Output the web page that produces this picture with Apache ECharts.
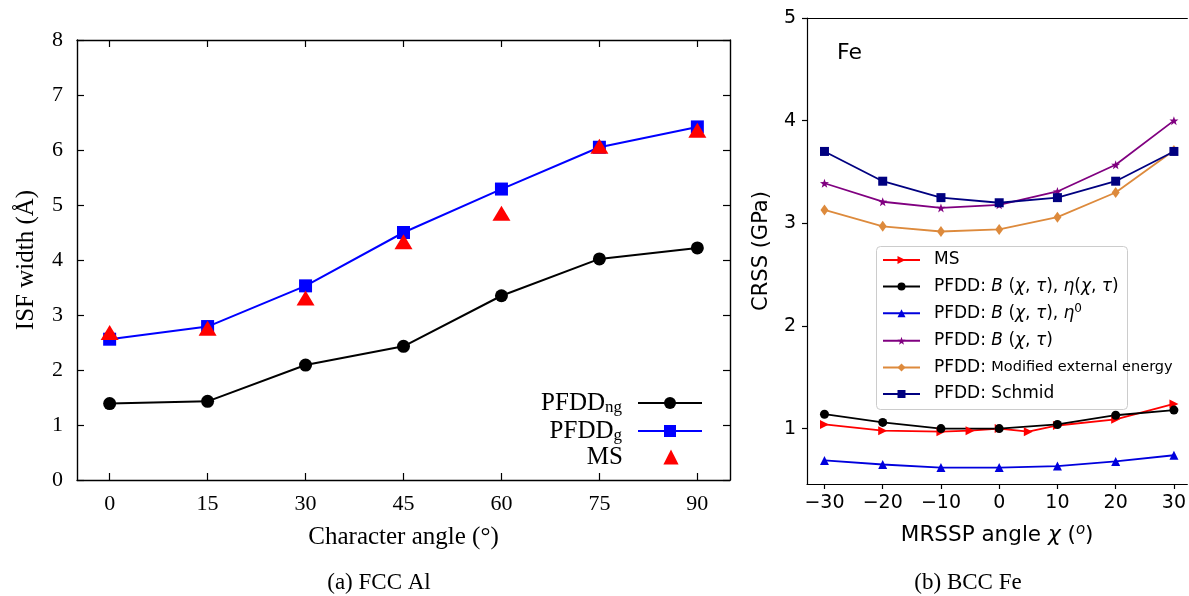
<!DOCTYPE html>
<html><head><meta charset="utf-8">
<script src="https://cdn.jsdelivr.net/npm/echarts@6/dist/echarts.min.js"></script>
<style>html,body{margin:0;padding:0;background:#fff}#c{width:1189px;height:596px}</style>
</head><body><div id="c"></div>
<script>
// ---- (a) FCC Al ----
const angleTicks = [0, 15, 30, 45, 60, 75, 90];
const alAngles = [0, 15, 30, 45, 60, 75, 90];
const pfddNg = [1.39, 1.43, 2.09, 2.43, 3.35, 4.02, 4.22];
const pfddG = [2.56, 2.79, 3.53, 4.50, 5.29, 6.05, 6.42];
const msAl = [2.68, 2.76, 3.31, 4.33, 4.85, 6.07, 6.36];
const isfTicks = [0, 1, 2, 3, 4, 5, 6, 7, 8];

// ---- (b) BCC Fe ----
const chiTicks = [-30, -20, -10, 0, 10, 20, 30];
const crssTicks = [1, 2, 3, 4, 5];
const chi = [-30, -20, -10, 0, 10, 20, 30];
const msChi = [-30, -20, -10, -5, 0, 5, 10, 20, 30];
const msFe = [1.04, 0.98, 0.97, 0.98, 1.00, 0.97, 1.03, 1.09, 1.24];
const pfddBEta = [1.14, 1.06, 1.00, 1.00, 1.04, 1.13, 1.18];
const pfddBEta0 = [0.69, 0.65, 0.62, 0.62, 0.635, 0.68, 0.74];
const pfddB = [3.39, 3.21, 3.15, 3.18, 3.31, 3.57, 4.00];
const pfddMod = [3.13, 2.97, 2.92, 2.94, 3.06, 3.30, 3.71];
const pfddSchmid = [3.70, 3.41, 3.25, 3.20, 3.25, 3.41, 3.70];

const pairs = (xs, ys) => xs.map((x, i) => [x, ys[i]]);
const SERIF = '"Liberation Serif", "DejaVu Serif", serif';
const SANS = '"DejaVu Sans", sans-serif';
const STAR = 'path://M0,-10 L2.35,-3.24 L9.51,-3.09 L3.8,1.24 L5.88,8.09 L0,4 L-5.88,8.09 L-3.8,1.24 L-9.51,-3.09 L-2.35,-3.24 Z';

const chart = echarts.init(document.getElementById('c'), null, {renderer: 'canvas'});

const leftAxisLine = {onZero: false, lineStyle: {color: '#000', width: 1.4}};
const rightAxisLine = {onZero: false, lineStyle: {color: '#000', width: 1.2}};
const leftTick = {inside: true, length: 7, lineStyle: {color: '#000', width: 1.2}};

const serifRich = {
  b: {fontFamily: SERIF, fontSize: 25, color: '#000', lineHeight: 26},
  s: {fontFamily: SERIF, fontSize: 17, color: '#000', lineHeight: 26, verticalAlign: 'bottom', padding: [9, 0, 0, 0]}
};
function leftLegend(name, center, itemHeight) {
  return {orient: 'vertical', right: 486, top: center - 13, align: 'right', padding: 0,
    itemWidth: 64, itemHeight: itemHeight, data: [name],
    formatter: n => n === 'PFDD_ng' ? '{b|PFDD}{s|ng}' : n === 'PFDD_g' ? '{b|PFDD}{s|g}' : '{b|MS}',
    textStyle: {fontFamily: SERIF, fontSize: 25, lineHeight: 26, color: '#000', padding: [0, 11, 0, 0], rich: serifRich}};
}

const sansRich = {
  t: {fontFamily: SANS, fontSize: 17, color: '#000', lineHeight: 20},
  i: {fontFamily: SANS, fontSize: 17, fontStyle: 'italic', color: '#000', lineHeight: 20},
  sup: {fontFamily: SANS, fontSize: 12, color: '#000', lineHeight: 20, verticalAlign: 'top', padding: [0, 0, 9, 0]},
  sm: {fontFamily: SANS, fontSize: 14.5, color: '#000', lineHeight: 20}
};

const option = {
  animation: false,
  backgroundColor: '#fff',
  title: [
    {text: '(a) FCC Al', left: 374, top: 566, textAlign: 'center',
     textStyle: {fontFamily: SERIF, fontSize: 23, fontWeight: 'normal', color: '#000'}},
    {text: '(b) BCC Fe', left: 963, top: 566, textAlign: 'center',
     textStyle: {fontFamily: SERIF, fontSize: 23, fontWeight: 'normal', color: '#000'}},
    {text: 'Fe', left: 832, top: 37,
     textStyle: {fontFamily: SANS, fontSize: 22, fontWeight: 'normal', color: '#000'}}
  ],
  graphic: [
    {type: 'rect', left: 876, top: 246, z: 3,
     shape: {width: 251, height: 163, r: 4},
     style: {fill: 'rgba(255,255,255,0.85)', stroke: '#cccccc', lineWidth: 1}}
  ],
  grid: [
    {left: 77, top: 40, width: 653, height: 440},
    {left: 807, top: 18, right: 0, height: 466}
  ],
  xAxis: [
    {type: 'value', gridIndex: 0, min: -5, max: 95, position: 'bottom',
     name: 'Character angle (°)', nameLocation: 'middle', nameGap: 45,
     nameTextStyle: {fontFamily: SERIF, fontSize: 25, color: '#000'},
     axisLine: leftAxisLine,
     axisTick: Object.assign({customValues: angleTicks}, leftTick),
     axisLabel: {customValues: angleTicks, margin: 13, fontFamily: SERIF, fontSize: 22, color: '#000'},
     splitLine: {show: false}},
    {type: 'value', gridIndex: 0, min: -5, max: 95, position: 'top',
     axisLine: leftAxisLine,
     axisTick: Object.assign({customValues: angleTicks}, leftTick),
     axisLabel: {show: false}, splitLine: {show: false}},
    {type: 'value', gridIndex: 1, min: -33, max: 32.3, position: 'bottom',
     name: '{t|MRSSP angle }{i|χ}{t| (}{sup|o}{t|)}', nameLocation: 'middle', nameGap: 39,
     nameTextStyle: {fontFamily: SANS, fontSize: 21.5, color: '#000',
       rich: {t: {fontFamily: SANS, fontSize: 21.5, color: '#000'},
              i: {fontFamily: SANS, fontSize: 21.5, fontStyle: 'italic', color: '#000'},
              sup: {fontFamily: SANS, fontSize: 15, fontStyle: 'italic', color: '#000', verticalAlign: 'top', padding: [0, 0, 9, 0]}}},
     axisLine: rightAxisLine,
     axisTick: {inside: false, length: 5, customValues: chiTicks, lineStyle: {color: '#000', width: 1.2}},
     axisLabel: {customValues: chiTicks, margin: 10, fontFamily: SANS, fontSize: 19, color: '#000',
       formatter: v => (v < 0 ? '\u2212' + Math.abs(v) : String(v))},
     splitLine: {show: false}},
    {type: 'value', gridIndex: 1, min: -33, max: 32.3, position: 'top',
     axisLine: rightAxisLine, axisTick: {show: false}, axisLabel: {show: false}, splitLine: {show: false}}
  ],
  yAxis: [
    {type: 'value', gridIndex: 0, min: 0, max: 8, position: 'left',
     name: 'ISF width (Å)', nameLocation: 'middle', nameGap: 38,
     nameTextStyle: {fontFamily: SERIF, fontSize: 25, color: '#000'},
     axisLine: leftAxisLine,
     axisTick: Object.assign({customValues: isfTicks}, leftTick),
     axisLabel: {customValues: isfTicks, margin: 14, fontFamily: SERIF, fontSize: 22, color: '#000'},
     splitLine: {show: false}},
    {type: 'value', gridIndex: 0, min: 0, max: 8, position: 'right',
     axisLine: leftAxisLine,
     axisTick: Object.assign({customValues: isfTicks}, leftTick),
     axisLabel: {show: false}, splitLine: {show: false}},
    {type: 'value', gridIndex: 1, min: 0.46, max: 5, position: 'left',
     name: 'CRSS (GPa)', nameLocation: 'middle', nameGap: 35,
     nameTextStyle: {fontFamily: SANS, fontSize: 21, color: '#000'},
     axisLine: rightAxisLine,
     axisTick: {inside: false, length: 5, customValues: crssTicks, lineStyle: {color: '#000', width: 1.2}},
     axisLabel: {customValues: crssTicks, margin: 11, fontFamily: SANS, fontSize: 19, color: '#000'},
     splitLine: {show: false}}
  ],
  legend: [
    leftLegend('PFDD_ng', 403, 15),
    leftLegend('PFDD_g', 431, 15),
    leftLegend('MS (Al)', 457, 19),
    {orient: 'vertical', left: 876, top: 246, align: 'left', itemGap: 6.6, z: 4,
     padding: [4, 6, 6, 6], itemWidth: 37, itemHeight: 10,
     data: ['MS', 'PFDD: B (χ, τ), η(χ, τ)', 'PFDD: B (χ, τ), η0', 'PFDD: B (χ, τ)', 'PFDD: Modified external energy', 'PFDD: Schmid'],
     formatter: n => {
       if (n === 'MS') return '{t|MS}';
       if (n === 'PFDD: B (χ, τ), η(χ, τ)') return '{t|PFDD: }{i|B}{t| (}{i|χ}{t|, }{i|τ}{t|), }{i|η}{t|(}{i|χ}{t|, }{i|τ}{t|)}';
       if (n === 'PFDD: B (χ, τ), η0') return '{t|PFDD: }{i|B}{t| (}{i|χ}{t|, }{i|τ}{t|), }{i|η}{sup|0}';
       if (n === 'PFDD: B (χ, τ)') return '{t|PFDD: }{i|B}{t| (}{i|χ}{t|, }{i|τ}{t|)}';
       if (n === 'PFDD: Modified external energy') return '{t|PFDD: }{sm|Modified external energy}';
       return '{t|PFDD: Schmid}';
     },
     textStyle: {fontFamily: SANS, fontSize: 17, lineHeight: 20, color: '#000', padding: [0, 0, 0, 9], rich: sansRich}}
  ],
  series: [
    {name: 'PFDD_ng', type: 'line', xAxisIndex: 0, yAxisIndex: 0, data: pairs(alAngles, pfddNg),
     symbol: 'circle', symbolSize: 13, lineStyle: {color: '#000', width: 2}, itemStyle: {color: '#000'}},
    {name: 'PFDD_g', type: 'line', xAxisIndex: 0, yAxisIndex: 0, data: pairs(alAngles, pfddG),
     symbol: 'rect', symbolSize: 13, lineStyle: {color: '#0000ff', width: 2}, itemStyle: {color: '#0000ff'}},
    {name: 'MS (Al)', type: 'line', xAxisIndex: 0, yAxisIndex: 0, data: pairs(alAngles, msAl),
     symbol: 'triangle', symbolSize: [18, 15], lineStyle: {color: '#ff0000', width: 0, opacity: 0},
     itemStyle: {color: '#ff0000'}},

    {name: 'MS', type: 'line', xAxisIndex: 2, yAxisIndex: 2, data: pairs(msChi, msFe),
     symbol: 'triangle', symbolRotate: -90, symbolSize: 9, lineStyle: {color: '#ff0000', width: 1.8}, itemStyle: {color: '#ff0000'}},
    {name: 'PFDD: B (χ, τ), η(χ, τ)', type: 'line', xAxisIndex: 2, yAxisIndex: 2, data: pairs(chi, pfddBEta),
     symbol: 'circle', symbolSize: 9, lineStyle: {color: '#000', width: 1.8}, itemStyle: {color: '#000'}},
    {name: 'PFDD: B (χ, τ), η0', type: 'line', xAxisIndex: 2, yAxisIndex: 2, data: pairs(chi, pfddBEta0),
     symbol: 'triangle', symbolSize: 9, lineStyle: {color: '#0000dd', width: 1.8}, itemStyle: {color: '#0000dd'}},
    {name: 'PFDD: B (χ, τ)', type: 'line', xAxisIndex: 2, yAxisIndex: 2, data: pairs(chi, pfddB),
     symbol: STAR, symbolSize: 9, lineStyle: {color: '#800080', width: 1.8}, itemStyle: {color: '#800080'}},
    {name: 'PFDD: Modified external energy', type: 'line', xAxisIndex: 2, yAxisIndex: 2, data: pairs(chi, pfddMod),
     symbol: 'diamond', symbolSize: [8, 11], lineStyle: {color: '#dd8a3c', width: 1.8}, itemStyle: {color: '#dd8a3c'}},
    {name: 'PFDD: Schmid', type: 'line', xAxisIndex: 2, yAxisIndex: 2, data: pairs(chi, pfddSchmid),
     symbol: 'rect', symbolSize: 9, lineStyle: {color: '#000080', width: 1.8}, itemStyle: {color: '#000080'}}
  ]
};
chart.setOption(option);
</script></body></html>
